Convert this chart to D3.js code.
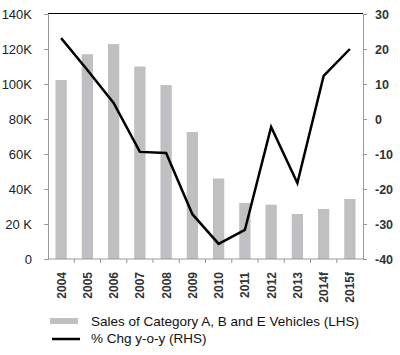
<!DOCTYPE html>
<html><head><meta charset="utf-8">
<script src="https://cdn.jsdelivr.net/npm/d3@7"></script>
<style>body{margin:0;background:#fff}svg{display:block;font-family:Arial,"Liberation Sans",sans-serif}</style>
</head><body><svg id="c" width="400" height="355"></svg>
<script>
const years = ["2004","2005","2006","2007","2008","2009","2010","2011","2012","2013","2014f","2015f"];
const sales = [102300,117000,122800,110000,99400,72600,46000,32000,31000,25700,28600,34300];
const pctChg = [23.1,14,4.6,-9.4,-9.7,-27.2,-35.7,-31.7,-2.3,-18.3,12.3,20];
const leftTicks = [0,20000,40000,60000,80000,100000,120000,140000];
const leftTickLabels = ["0","20 K","40K","60K","80K","100K","120K","140K"];
const rightTicks = [-40,-30,-20,-10,0,10,20,30];
const legendLabels = ["Sales of Category A, B and E Vehicles (LHS)","% Chg y-o-y (RHS)"];

const svg = d3.select("#c");
const L=48, R=363, T=14, B=259;
const x = d3.scaleBand().domain(years).range([L,R]).paddingInner(0.57).paddingOuter(0.285);
const yL = d3.scaleLinear().domain([0,140000]).range([B,T]);
const yR = d3.scaleLinear().domain([-40,30]).range([B,T]);

// bars
svg.append("g").selectAll("rect").data(years).join("rect")
  .attr("x",d=>x(d)).attr("width",x.bandwidth())
  .attr("y",(d,i)=>yL(sales[i])).attr("height",(d,i)=>B-yL(sales[i]))
  .attr("fill","#c0bfc1");

// top frame line
svg.append("line").attr("x1",L).attr("x2",R).attr("y1",T-0.5).attr("y2",T-0.5)
  .attr("stroke","#000").attr("stroke-width",1.2);

// left axis
const gl = svg.append("g").attr("transform",`translate(${L},0)`)
  .call(d3.axisLeft(yL).tickValues(leftTicks).tickSize(4).tickPadding(12)
    .tickFormat((d,i)=>leftTickLabels[i]));
gl.selectAll("text").attr("font-size",13).attr("fill","#222").attr("font-family","Arial,'Liberation Sans',sans-serif");
gl.selectAll("line,path").attr("stroke","#999");

// right axis
const gr = svg.append("g").attr("transform",`translate(${R},0)`)
  .call(d3.axisRight(yR).tickValues(rightTicks).tickSize(4).tickPadding(8).tickFormat(d=>String(d)));
gr.selectAll("text").attr("font-size",12.5).attr("font-weight","bold").attr("fill","#333").attr("font-family","Arial,'Liberation Sans',sans-serif");
gr.selectAll("line,path").attr("stroke","#999");

// bottom axis
const boundaries = years.map(d=>x(d)-x.step()*x.paddingInner()/2).slice(1);
const gb = svg.append("g").attr("transform",`translate(0,${B})`);
gb.append("line").attr("x1",L).attr("x2",R).attr("stroke","#999");
gb.selectAll("line.t").data(boundaries).join("line").attr("class","t")
  .attr("x1",d=>d).attr("x2",d=>d).attr("y1",0).attr("y2",4).attr("stroke","#999");
gb.selectAll("text").data(years).join("text")
  .attr("transform",d=>`translate(${x(d)+x.bandwidth()/2+4.5},${13}) rotate(-90)`)
  .attr("text-anchor","end").attr("font-size",12).attr("font-weight","bold").attr("fill","#333")
  .text(d=>d);

// line
svg.append("path").datum(pctChg)
  .attr("d",d3.line().x((d,i)=>x(years[i])+x.bandwidth()/2).y(d=>yR(d)))
  .attr("fill","none").attr("stroke","#000").attr("stroke-width",2.5).attr("stroke-linejoin","miter");

// legend
const lg = svg.append("g");
lg.append("rect").attr("x",50).attr("y",318).attr("width",28).attr("height",6).attr("fill","#c0bfc1");
lg.append("line").attr("x1",52).attr("x2",80).attr("y1",339).attr("y2",339).attr("stroke","#000").attr("stroke-width",2.5);
lg.selectAll("text").data(legendLabels).join("text")
  .attr("x",91).attr("y",(d,i)=>326+i*17).attr("font-size",13.5).attr("fill","#111").text(d=>d);
</script></body></html>
